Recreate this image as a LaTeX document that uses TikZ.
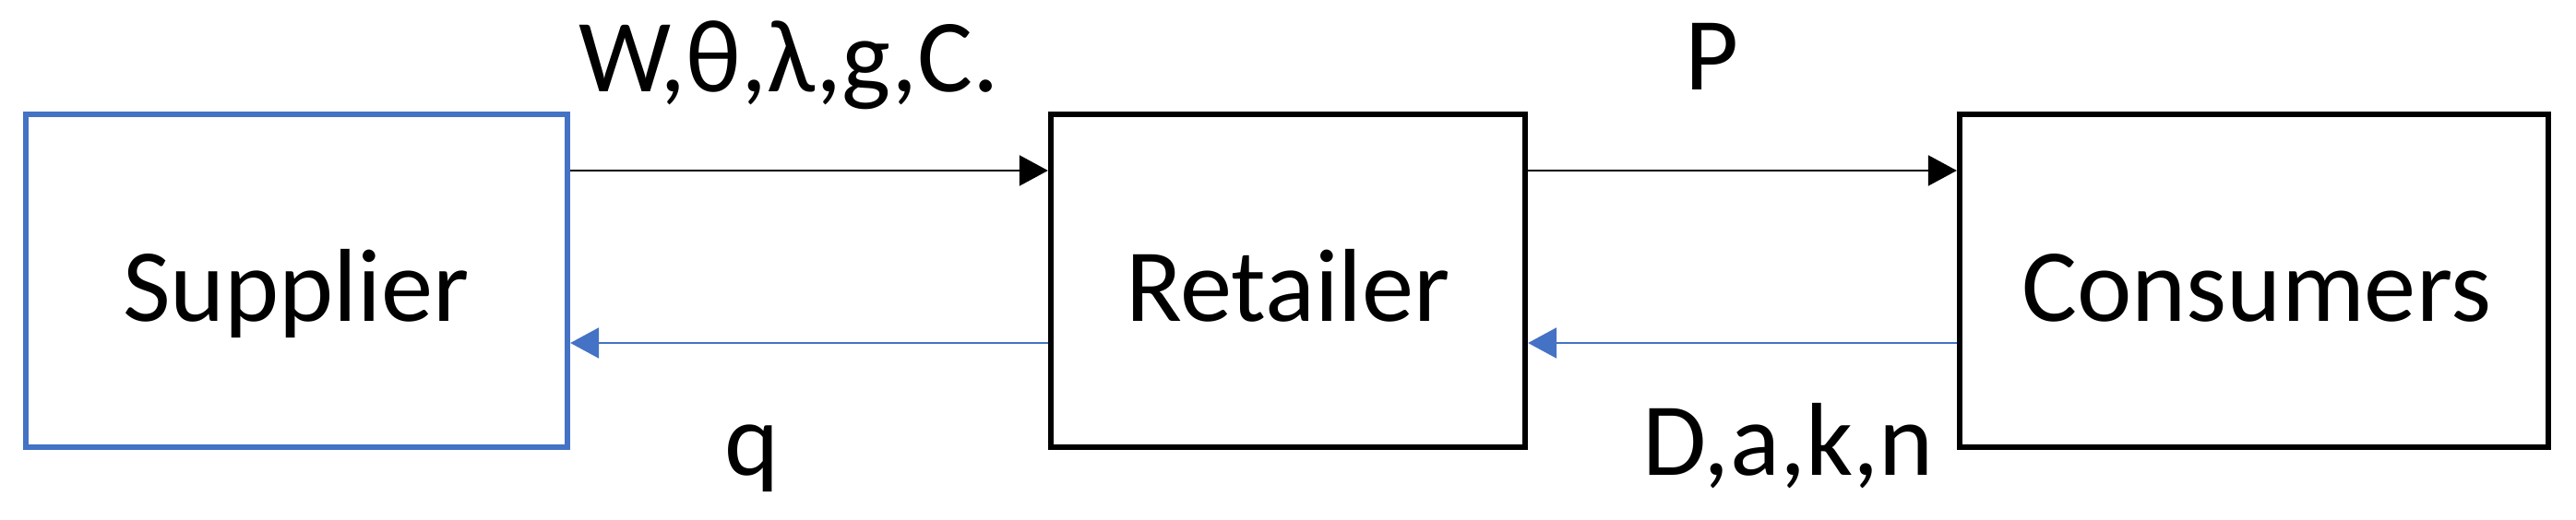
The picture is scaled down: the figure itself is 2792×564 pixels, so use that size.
\documentclass[tikz,border=0pt]{standalone}
\usepackage{fontspec}
\setmainfont{Carlito}
\usetikzlibrary{arrows.meta,calc}
\definecolor{boxblue}{HTML}{4472C4}
\begin{document}
\begin{tikzpicture}[x=0.01cm,y=0.01cm,
  box/.style={draw=black,line width=1.7pt,rectangle,minimum height=3.61cm,inner sep=0pt},
  bluebox/.style={box,draw=boxblue},
  txt/.style={font=\fontsize{32}{38}\selectfont,anchor=base,inner sep=0pt},
  fwd/.style={draw=black,line width=0.6pt,-{Triangle[length=0.31cm,width=0.33cm]}},
  bwd/.style={draw=boxblue,line width=0.7pt,-{Triangle[length=0.31cm,width=0.33cm]}}]
\useasboundingbox (0,0) rectangle (2792,564);
\node[bluebox,minimum width=5.87cm] (sup) at (321.5,259.5) {};
\node[box,minimum width=5.14cm] (ret) at (1396,259.5) {};
\node[box,minimum width=6.38cm] (con) at (2443,259.5) {};
\node[txt] (suptxt) at (321,215) {Supplier};
\node[txt] (rettxt) at (1396,215) {Retailer};
\node[txt] (contxt) at (2446,215) {Consumers};
\coordinate (ytop) at (0,379);
\coordinate (ybot) at (0,192);
\draw[fwd] (sup.east |- ytop) -- (ret.west |- ytop);
\draw[fwd] (ret.east |- ytop) -- (con.west |- ytop);
\draw[bwd] (ret.west |- ybot) -- (sup.east |- ybot);
\draw[bwd] (con.west |- ybot) -- (ret.east |- ybot);
\node[txt] (l1) at (855,464) {W,θ,λ,g,C.};
\node[txt] (l2) at (1856,466) {P};
\node[txt] (l3) at (815,48) {q};
\node[txt] (l4) at (1938,48) {D,a,k,n};
\end{tikzpicture}
\end{document}
